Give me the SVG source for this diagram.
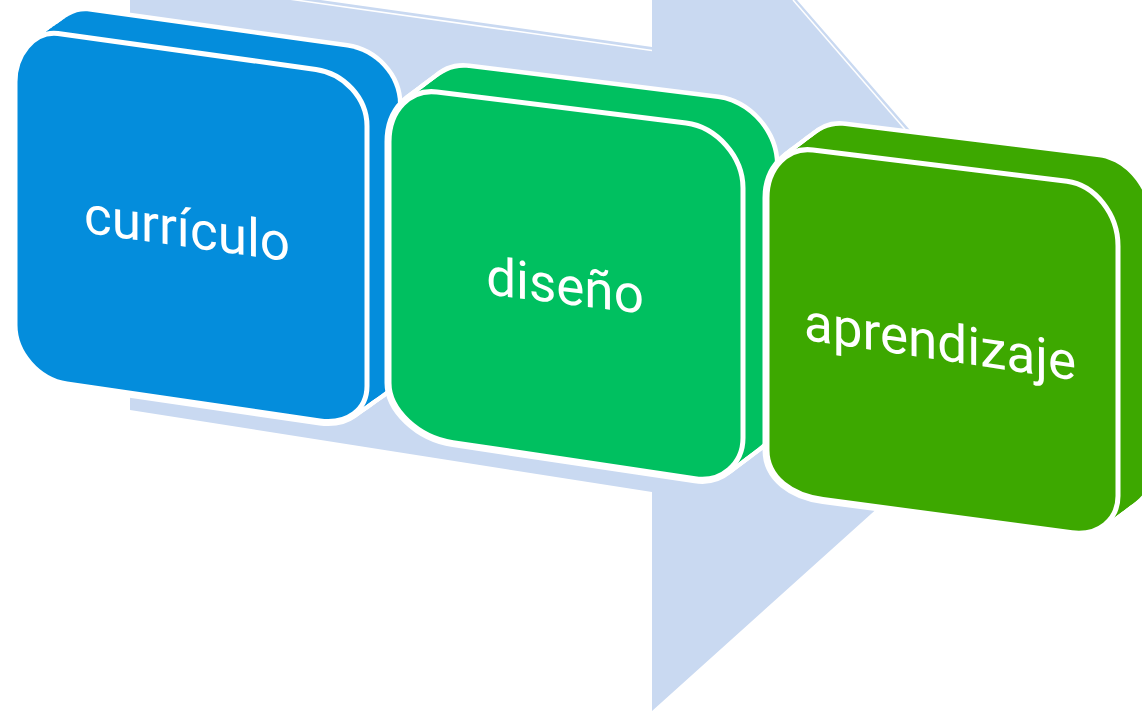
<svg xmlns="http://www.w3.org/2000/svg" xmlns:xlink="http://www.w3.org/1999/xlink" width="1142" height="711" viewBox="0 0 1142 711">
<style>
.ol use{fill:#fff;stroke:#fff;stroke-width:9;stroke-linejoin:round}
.front{stroke:#fff;stroke-width:5}
.lbl{font-family:Roboto,"Noto Sans",sans-serif;font-size:53px;fill:#fff;text-anchor:middle}
.b1{fill:#048DDC}.b2{fill:#00C060}.b3{fill:#3DA800}
</style>
<defs>
<path id="f1" d="M15,82 C15,56 33,30.7 58,33.5 L316,69.5 C344,73.5 367,98 367,126 L367,386 C367,410 347,424.5 320,421 L67,384 C38.4,379.6 15,353 15,325 Z"/>
<path id="f2" d="M389,142 C389,110 410.6,88.7 437,92 L686,123 C717,127 743,157 743,188 L743,438 C743,464 721,482.7 695,478.8 L453,442.6 C417.8,437.3 389,409.4 389,383 Z"/>
<path id="f3" d="M767,198 C767,168 787.7,146.7 813,150 L1067,181.3 C1095,185 1118,214 1118,246 L1118,496 C1118,520 1098,536 1072,532.8 L823,499.5 C792.2,495.4 767,478 767,450 Z"/>
</defs>
<g id="arrow">
<polygon points="130,-27 652,47 652,-167 1080,326 652,711 652,492 130,410" fill="#C9D9F1"/>
<polyline points="130,-23.5 652,50.5" fill="none" stroke="#fff" stroke-width="1.5"/>
<polyline points="793,0 916,142" fill="none" stroke="#fff" stroke-width="1.5"/>
</g>
<g id="box1">
<g class="ol"><use href="#f1"/><use href="#f1" transform="translate(3.1,-2.2)"/><use href="#f1" transform="translate(6.2,-4.4)"/><use href="#f1" transform="translate(9.3,-6.6)"/><use href="#f1" transform="translate(12.4,-8.8)"/><use href="#f1" transform="translate(15.5,-11)"/><use href="#f1" transform="translate(18.6,-13.2)"/><use href="#f1" transform="translate(21.7,-15.4)"/><use href="#f1" transform="translate(24.8,-17.6)"/><use href="#f1" transform="translate(27.9,-19.8)"/><use href="#f1" transform="translate(31,-22)"/></g>
<g class="b1"><use href="#f1"/><use href="#f1" transform="translate(3.1,-2.2)"/><use href="#f1" transform="translate(6.2,-4.4)"/><use href="#f1" transform="translate(9.3,-6.6)"/><use href="#f1" transform="translate(12.4,-8.8)"/><use href="#f1" transform="translate(15.5,-11)"/><use href="#f1" transform="translate(18.6,-13.2)"/><use href="#f1" transform="translate(21.7,-15.4)"/><use href="#f1" transform="translate(24.8,-17.6)"/><use href="#f1" transform="translate(27.9,-19.8)"/><use href="#f1" transform="translate(31,-22)"/></g>
<use href="#f1" class="front b1"/>
<text class="lbl" transform="translate(187,247) skewY(8)">currículo</text>
</g>
<g id="box2">
<g class="ol"><use href="#f2"/><use href="#f2" transform="translate(3.2,-2.4)"/><use href="#f2" transform="translate(6.4,-4.8)"/><use href="#f2" transform="translate(9.6,-7.2)"/><use href="#f2" transform="translate(12.8,-9.6)"/><use href="#f2" transform="translate(16,-12)"/><use href="#f2" transform="translate(19.2,-14.4)"/><use href="#f2" transform="translate(22.4,-16.8)"/><use href="#f2" transform="translate(25.6,-19.2)"/><use href="#f2" transform="translate(28.8,-21.6)"/><use href="#f2" transform="translate(32,-24)"/></g>
<g class="b2"><use href="#f2"/><use href="#f2" transform="translate(3.2,-2.4)"/><use href="#f2" transform="translate(6.4,-4.8)"/><use href="#f2" transform="translate(9.6,-7.2)"/><use href="#f2" transform="translate(12.8,-9.6)"/><use href="#f2" transform="translate(16,-12)"/><use href="#f2" transform="translate(19.2,-14.4)"/><use href="#f2" transform="translate(22.4,-16.8)"/><use href="#f2" transform="translate(25.6,-19.2)"/><use href="#f2" transform="translate(28.8,-21.6)"/><use href="#f2" transform="translate(32,-24)"/></g>
<use href="#f2" class="front b2"/>
<text class="lbl" transform="translate(565,304) skewY(7)">diseño</text>
</g>
<g id="box3">
<g class="ol"><use href="#f3"/><use href="#f3" transform="translate(3.2,-2.4)"/><use href="#f3" transform="translate(6.4,-4.8)"/><use href="#f3" transform="translate(9.6,-7.2)"/><use href="#f3" transform="translate(12.8,-9.6)"/><use href="#f3" transform="translate(16,-12)"/><use href="#f3" transform="translate(19.2,-14.4)"/><use href="#f3" transform="translate(22.4,-16.8)"/><use href="#f3" transform="translate(25.6,-19.2)"/><use href="#f3" transform="translate(28.8,-21.6)"/><use href="#f3" transform="translate(32,-24)"/></g>
<g class="b3"><use href="#f3"/><use href="#f3" transform="translate(3.2,-2.4)"/><use href="#f3" transform="translate(6.4,-4.8)"/><use href="#f3" transform="translate(9.6,-7.2)"/><use href="#f3" transform="translate(12.8,-9.6)"/><use href="#f3" transform="translate(16,-12)"/><use href="#f3" transform="translate(19.2,-14.4)"/><use href="#f3" transform="translate(22.4,-16.8)"/><use href="#f3" transform="translate(25.6,-19.2)"/><use href="#f3" transform="translate(28.8,-21.6)"/><use href="#f3" transform="translate(32,-24)"/></g>
<use href="#f3" class="front b3"/>
<text class="lbl" transform="translate(940,360) skewY(8.5)">aprendizaje</text>
</g>
</svg>
